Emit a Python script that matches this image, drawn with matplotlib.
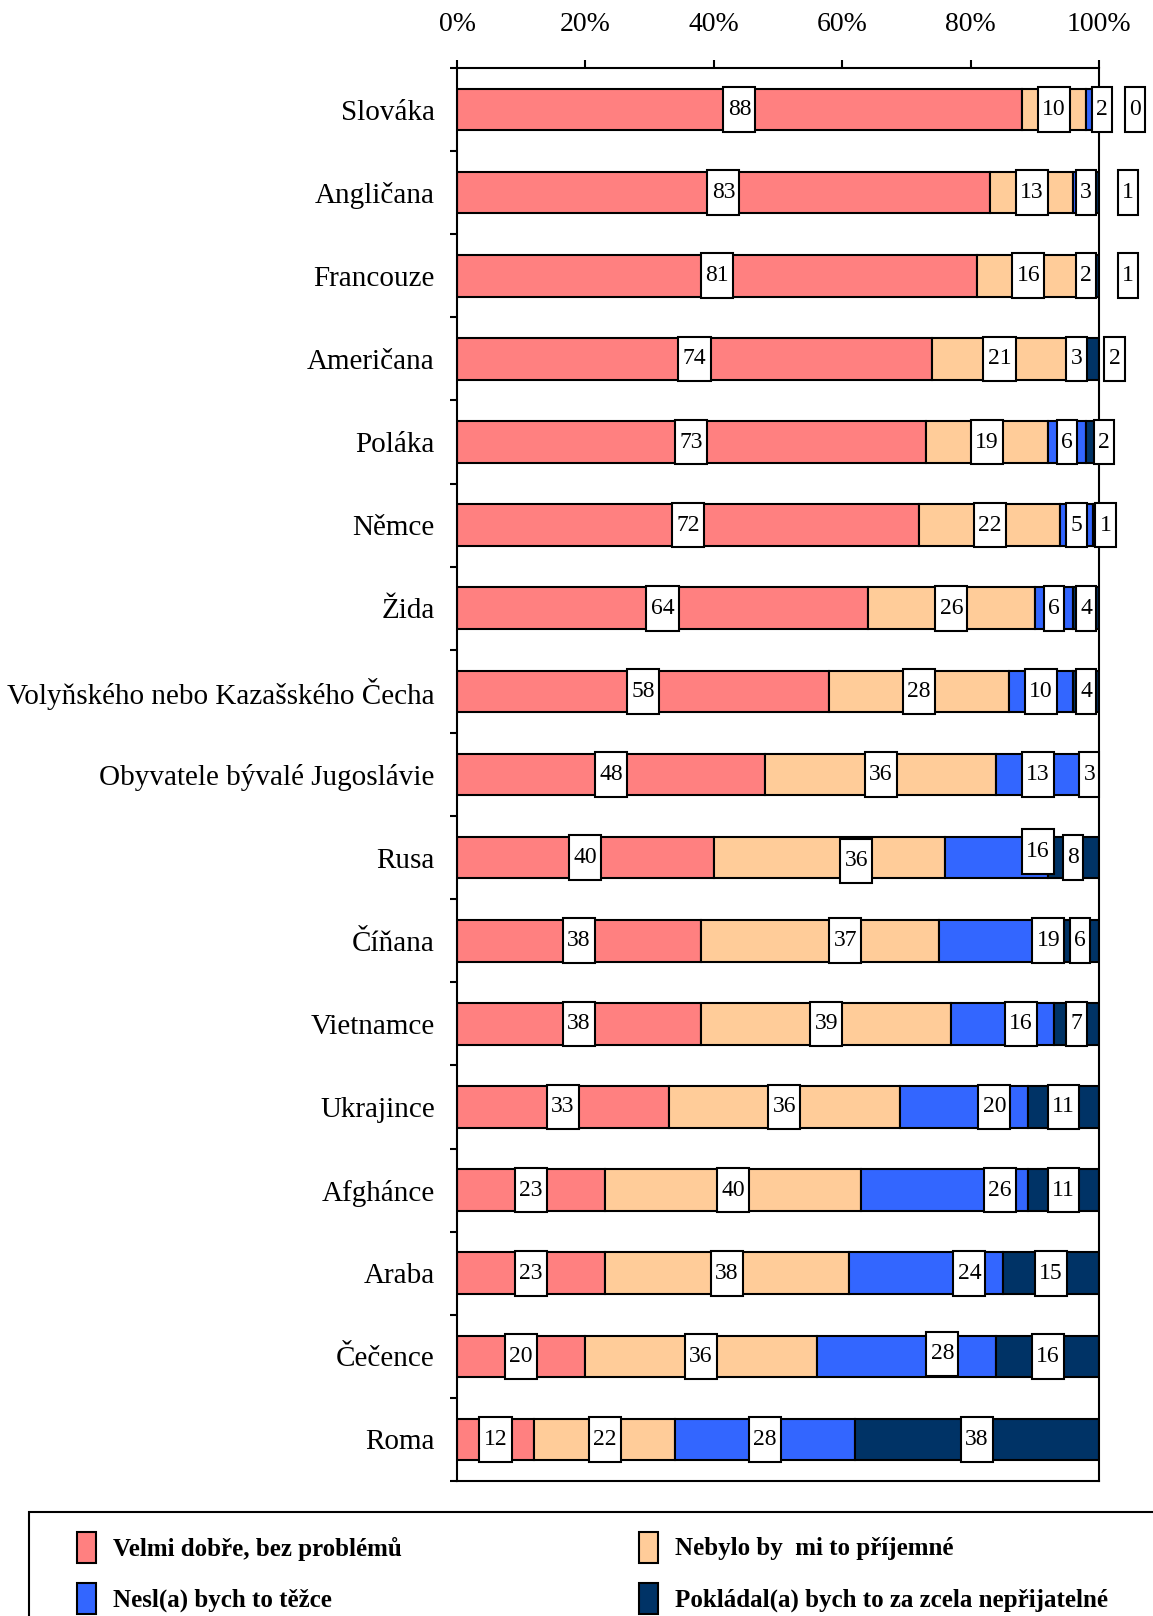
import numpy as np
import matplotlib
matplotlib.use("Agg")
import matplotlib.pyplot as plt
from matplotlib.patches import Rectangle
from matplotlib.path import Path

plt.rcParams['font.family'] = ['Liberation Serif', 'DejaVu Serif']

kategorie = ["Slováka", "Angličana", "Francouze", "Američana", "Poláka", "Němce",
             "Žida", "Volyňského nebo Kazašského Čecha", "Obyvatele bývalé Jugoslávie",
             "Rusa", "Číňana", "Vietnamce", "Ukrajince", "Afghánce", "Araba",
             "Čečence", "Roma"]

velmi_dobre = [88, 83, 81, 74, 73, 72, 64, 58, 48, 40, 38, 38, 33, 23, 23, 20, 12]
neprijemne = [10, 13, 16, 21, 19, 22, 26, 28, 36, 36, 37, 39, 36, 40, 38, 36, 22]
tezce = [2, 3, 2, 3, 6, 5, 6, 10, 13, 16, 19, 16, 20, 26, 24, 28, 28]
neprijatelne = [0, 1, 1, 2, 2, 1, 4, 4, 3, 8, 6, 7, 11, 11, 15, 16, 38]

serie = ["Velmi dobře, bez problémů", "Nebylo by  mi to příjemné",
         "Nesl(a) bych to těžce", "Pokládal(a) bych to za zcela nepřijatelné"]
barvy = ["#FF8080", "#FFCC99", "#3366FF", "#003366"]

# posuny popisku (dx v %, dy v kategoriich) - tak jak je rozhazel Excel
posuny = {
    (0, 2): (1.5, 0), (0, 3): (5.6, 0),
    (1, 2): (0.5, 0), (1, 3): (5.0, 0),
    (2, 3): (5.0, 0),
    (3, 3): (3.4, 0),
    (4, 3): (1.8, 0),
    (5, 3): (1.5, 0),
    (9, 1): (4.2, 0.04), (9, 2): (6.5, -0.07),
    (10, 1): (4.0, 0), (10, 2): (7.6, 0),
    (11, 2): (2.8, 0),
    (12, 2): (4.7, 0),
    (13, 2): (8.6, 0),
    (14, 2): (6.8, 0),
    (15, 2): (5.6, -0.03),
}


def rameček(x0, y0, width, height, mutation_size):
    px = 0.18 * mutation_size
    py = 0.5 * mutation_size
    x0, y0 = x0 - px, y0 - py
    x1, y1 = x0 + width + 2 * px, y0 + height + 2 * py
    return Path([(x0, y0), (x1, y0), (x1, y1), (x0, y1), (x0, y0)],
                [Path.MOVETO, Path.LINETO, Path.LINETO, Path.LINETO, Path.CLOSEPOLY])


fig = plt.figure(figsize=(11.53, 16.16), dpi=100)
ax = fig.add_axes([457 / 1153, 1 - 1481 / 1616, 642 / 1153, 1413 / 1616])

data = np.array([velmi_dobre, neprijemne, tezce, neprijatelne], dtype=float)
y = np.arange(len(kategorie))
vlevo = np.zeros(len(kategorie))
for s in range(4):
    ax.barh(y, data[s], left=vlevo, height=0.5, color=barvy[s],
            edgecolor='black', linewidth=1.5, zorder=2)
    for i in range(len(kategorie)):
        dx, dy = posuny.get((i, s), (0, 0))
        ax.text(vlevo[i] + data[s][i] / 2 + dx, y[i] + dy, f"{int(data[s][i])}",
                ha='center', va='center', fontsize=17, zorder=5, clip_on=False,
                bbox=dict(boxstyle=rameček, facecolor='white', edgecolor='black',
                          linewidth=1.5))
    vlevo += data[s]

ax.set_xlim(0, 100)
ax.set_ylim(len(kategorie) - 0.5, -0.5)
ax.xaxis.tick_top()
ax.set_xticks(np.arange(0, 101, 20))
ax.set_xticklabels([f"{v}%" for v in range(0, 101, 20)], fontsize=20)
ax.tick_params(axis='x', length=6, width=1.5, pad=16)
ax.set_yticks(y)
ax.set_yticklabels(kategorie, fontsize=21)
ax.set_yticks(np.arange(-0.5, len(kategorie), 1), minor=True)
ax.tick_params(axis='y', which='major', length=0, pad=16)
ax.tick_params(axis='y', which='minor', length=5, width=1.5)
for sp in ax.spines.values():
    sp.set_linewidth(1.5)

# legenda
fig.patches.append(Rectangle((29 / 1153, -0.02), 1.0, 0.02 + 1 - 1512 / 1616,
                             transform=fig.transFigure, facecolor='white',
                             edgecolor='black', linewidth=1.5))
lx = [77 / 1153, 639 / 1153]
ly = [1 - 1563 / 1616, 1 - 1614 / 1616]
for k in range(4):
    r, c = k // 2, k % 2
    fig.patches.append(Rectangle((lx[c], ly[r]), 19 / 1153, 31 / 1616,
                                 transform=fig.transFigure, facecolor=barvy[k],
                                 edgecolor='black', linewidth=1.5))
    fig.text(lx[c] + 36 / 1153, ly[r] + 14 / 1616, serie[k], fontsize=18,
             fontweight='bold', va='center', ha='left')

fig.savefig("out.png", dpi=100)
